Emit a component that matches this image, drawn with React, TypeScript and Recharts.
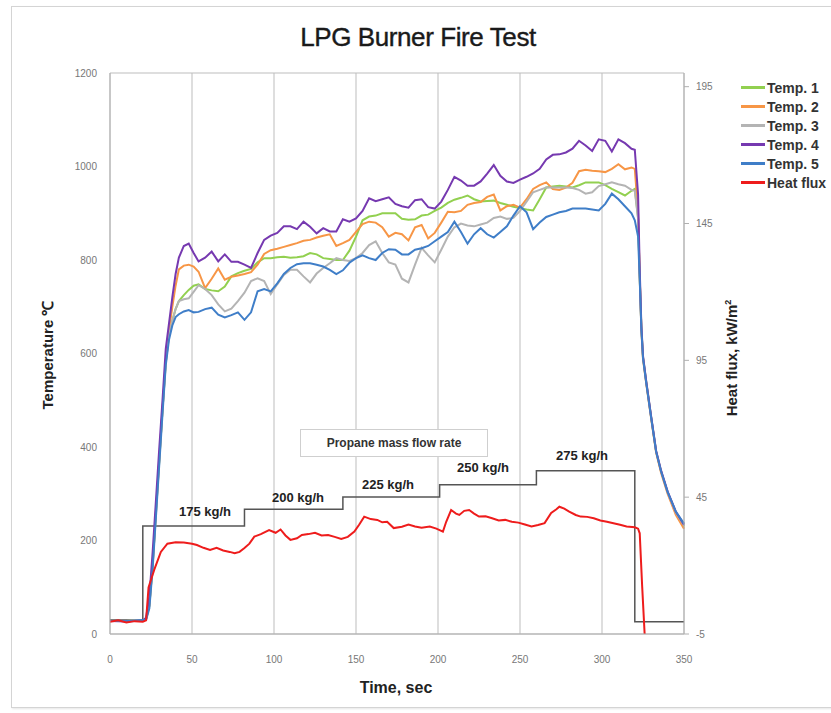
import React from 'react'
import {
  ComposedChart,
  Line,
  XAxis,
  YAxis,
  CartesianGrid,
} from 'recharts'

// time axis (sec) shared by the five thermocouples
const tempTimes = [
  0, 10, 20, 22, 24, 26, 28, 30, 32, 34, 36, 38, 40, 42, 45, 48, 51, 54, 58,
  62, 66, 70, 74, 78, 82, 86, 90, 94, 98, 102, 106, 110, 114, 118, 122, 126, 130, 134, 138,
  142, 146, 150, 154, 158, 162, 166, 170, 174, 178, 182, 186, 190, 194, 198, 202, 206, 210, 214, 218,
  222, 226, 230, 234, 238, 242, 246, 250, 254, 258, 262, 266, 270, 274, 278, 282, 286, 290, 294, 298,
  302, 306, 310, 314, 318,
  320, 322, 323, 324, 325, 327, 330, 333, 336, 340, 345, 350,
]

const temp1 = [
  28, 28, 30, 32, 60, 148, 258, 368, 478, 580, 640, 670, 695, 712, 725, 736, 745, 748, 738,
  735, 733, 743, 765, 772, 777, 781, 795, 804, 804, 806, 807, 805, 806, 808, 815, 812, 804, 802, 800,
  800, 820, 850, 885, 893, 895, 900, 900, 900, 888, 886, 887, 895, 897, 905, 912, 922, 929, 933, 938,
  930, 925, 926, 927, 922, 918, 914, 911, 908, 906, 930, 955, 957, 959, 957, 955, 960, 966, 966, 966,
  960, 952, 945, 938, 948,
  952, 890, 762, 655, 592, 538, 463, 390, 348, 303, 260, 230,
]

const temp2 = [
  28, 28, 30, 32, 62, 150, 262, 372, 480, 585, 650, 700, 745, 780, 788, 790, 786, 775, 740,
  760, 782, 758, 764, 767, 770, 774, 790, 813, 821, 824, 828, 832, 836, 841, 843, 848, 852, 855, 830,
  836, 843, 860, 877, 882, 880, 870, 850, 858, 855, 842, 870, 875, 846, 858, 880, 903, 902, 905, 918,
  922, 924, 935, 940, 906, 915, 918, 912, 930, 952, 960, 966, 952, 950, 955, 965, 990, 993, 991, 990,
  988, 995, 1005, 994, 998,
  995, 900, 765, 650, 588, 535, 460, 388, 345, 300, 255, 225,
]

const temp3 = [
  28, 28, 30, 32, 60, 148, 258, 368, 478, 580, 640, 670, 695, 712, 716, 718, 732, 746, 738,
  725, 705, 690, 696, 712, 730, 755, 761, 755, 727, 748, 768, 779, 779, 765, 752, 771, 783, 793, 804,
  800, 798, 804, 815, 832, 840, 815, 795, 790, 760, 752, 790, 826, 810, 795, 822, 850, 870, 878, 874,
  872, 876, 880, 890, 893, 888, 890, 905, 925, 945, 950, 955, 955, 955, 955, 954, 950, 942, 945, 958,
  962, 966, 962, 959, 950,
  948, 888, 762, 655, 592, 538, 463, 390, 348, 303, 260, 232,
]

const temp4 = [
  28, 27, 29, 35, 80, 175, 285, 395, 500, 610, 665, 720, 770, 805, 830, 835, 815, 797, 805,
  818, 797, 812, 796, 796, 790, 783, 815, 843, 852, 858, 872, 872, 866, 882, 871, 857, 868, 861, 861,
  887, 882, 889, 905, 932, 926, 930, 934, 920, 915, 912, 928, 930, 913, 910, 925, 950, 978, 970, 959,
  959, 968, 985, 1003, 980, 968, 965, 972, 978, 985, 995, 1015, 1025, 1026, 1030, 1038, 1055, 1045, 1033, 1058,
  1055, 1032, 1058, 1050, 1038,
  1036, 940, 780, 660, 595, 540, 465, 392, 350, 305, 262, 234,
]

const temp5 = [
  28, 28, 30, 30, 55, 140, 250, 360, 470, 575, 630, 660, 678, 684, 690, 693, 688, 689, 695,
  698, 683, 677, 682, 688, 672, 688, 733, 738, 733, 750, 770, 783, 791, 793, 793, 790, 786, 779, 770,
  778, 794, 804, 810, 804, 800, 815, 823, 822, 812, 812, 822, 825, 830, 840, 850, 860, 882, 860, 835,
  855, 868, 855, 848, 860, 872, 895, 915, 902, 866, 880, 892, 897, 902, 905, 910, 910, 910, 908, 906,
  920, 942, 930, 915, 900,
  885, 850, 758, 652, 590, 536, 462, 390, 348, 304, 262, 236,
]

// heat flux, kW/m2 (right axis)
const hfTimes = [
  0, 5, 10, 15, 20, 22, 23.5, 27, 31, 35, 40, 45, 50, 53, 57, 61, 65, 69, 73, 76, 79, 82, 85, 88,
  92, 97, 101, 104, 107, 110, 114, 117, 121, 125, 129, 133, 137, 141, 145, 149, 152, 155, 159, 163,
  166, 169, 173, 178, 182, 186, 190, 195, 199, 203, 205, 208, 211, 213, 216, 219, 222, 225, 229, 233,
  237, 241, 245, 249, 253, 257, 261, 265, 269, 272, 274, 277, 280, 284, 287, 291, 295, 299, 303, 307,
  311, 315, 320, 322, 323, 324.5, 326,
]
const hfValues = [
  -0.5, 0, -0.8, -0.3, -0.5, 0, 12, 18.5, 25, 28, 28.5, 28.4, 28, 27.5, 26.5, 25.7, 26.5, 25.5, 25, 24.5, 25, 26.4, 28, 30.6,
  31.5, 33, 32, 33.2, 31, 29.4, 30, 31.2, 31.5, 32, 31, 31.2, 30.5, 29.7, 30.5, 32.4, 35, 37.9, 37, 36.7,
  35.8, 36, 33.7, 34.2, 35, 34.3, 33.8, 34.3, 33.5, 32.4, 36, 40.3, 39, 38.5, 40, 40.3, 39, 37.9, 38, 37.3,
  36.5, 36.7, 36, 35.7, 35, 34.3, 34.8, 35.5, 39.2, 40.5, 41.5, 40.8, 39.7, 38.5, 37.9, 37.8, 37.3, 36.5, 36, 35.5,
  34.9, 34.3, 34, 33.5, 31.8, 12.3, -5,
]

// propane mass flow rate schedule, drawn as a step on the temperature scale
const flowTimes = [0, 20, 82, 142, 201, 260, 320, 350]
const flowLevels = [30, 231, 267, 293, 319, 349, 26, 26]
const flowLabels = ['175 kg/h', '200 kg/h', '225 kg/h', '250 kg/h', '275 kg/h']

const seriesNames = ['Temp. 1', 'Temp. 2', 'Temp. 3', 'Temp. 4', 'Temp. 5', 'Heat flux']

const xTicks = [0, 50, 100, 150, 200, 250, 300, 350]
const leftTicks = [0, 200, 400, 600, 800, 1000, 1200]
const rightTicks = [-5, 45, 95, 145, 195]

const tempData = tempTimes.map((t, i) => ({
  t,
  t1: temp1[i],
  t2: temp2[i],
  t3: temp3[i],
  t4: temp4[i],
  t5: temp5[i],
}))
const hfData = hfTimes.map((t, i) => ({ t, hf: hfValues[i] }))
const flowData = flowTimes.map((t, i) => ({ t, flow: flowLevels[i] }))

const FONT = '"Liberation Sans", Arial, sans-serif'
const colors = ['#92d050', '#f79646', '#b4b4b4', '#7639b0', '#3f7ec8', '#ee1c1c']
const labelSpots = [
  { left: 205, top: 512 },
  { left: 298, top: 498 },
  { left: 388, top: 485 },
  { left: 483, top: 468 },
  { left: 582, top: 456 },
]

export default function App() {
  return (
    <div style={{ position: 'absolute', left: 0, top: 0, width: 831, height: 713, overflow: 'hidden', background: '#fff', fontFamily: FONT }}>
      <div style={{ position: 'absolute', left: 11, top: 6, width: 840, height: 700, border: '1px solid #d4d4d4', boxShadow: '1px 1px 2px #e6e6e6' }} />
      <div style={{ position: 'absolute', left: 0, width: 836, top: 22, textAlign: 'center', fontSize: 26, color: '#1a1a1a', letterSpacing: -0.4, WebkitTextStroke: '0.4px #1a1a1a' }}>
        LPG Burner Fire Test
      </div>

      <ComposedChart
        width={831}
        height={713}
        data={tempData}
        margin={{ top: 73, right: 87, bottom: 49, left: 50 }}
        style={{ position: 'absolute', left: 0, top: 0 }}
      >
        <CartesianGrid stroke="#bdbdbd" strokeWidth={1} />
        <XAxis
          dataKey="t"
          type="number"
          domain={[0, 350]}
          ticks={xTicks}
          height={30}
          tickLine={false}
          tickMargin={16}
          stroke="#b0b0b0"
          tick={{ fill: '#777', fontSize: 10, fontFamily: FONT }}
        />
        <YAxis
          yAxisId="left"
          domain={[0, 1200]}
          ticks={leftTicks}
          width={60}
          tickLine={false}
          tickMargin={7}
          stroke="#b0b0b0"
          tick={{ fill: '#777', fontSize: 10, fontFamily: FONT }}
        />
        <YAxis
          yAxisId="right"
          orientation="right"
          domain={[-5, 200]}
          ticks={rightTicks}
          width={60}
          tickSize={5}
          tickMargin={7}
          stroke="#b0b0b0"
          tick={{ fill: '#777', fontSize: 10, fontFamily: FONT }}
          allowDataOverflow
        />
        <Line yAxisId="left" data={flowData} dataKey="flow" type="stepAfter" stroke="#555" strokeWidth={1.5} dot={false} isAnimationActive={false} />
        <Line yAxisId="left" dataKey="t1" name={seriesNames[0]} stroke={colors[0]} strokeWidth={2} dot={false} isAnimationActive={false} />
        <Line yAxisId="left" dataKey="t2" name={seriesNames[1]} stroke={colors[1]} strokeWidth={2} dot={false} isAnimationActive={false} />
        <Line yAxisId="left" dataKey="t3" name={seriesNames[2]} stroke={colors[2]} strokeWidth={2} dot={false} isAnimationActive={false} />
        <Line yAxisId="left" dataKey="t4" name={seriesNames[3]} stroke={colors[3]} strokeWidth={2} dot={false} isAnimationActive={false} />
        <Line yAxisId="left" dataKey="t5" name={seriesNames[4]} stroke={colors[4]} strokeWidth={2} dot={false} isAnimationActive={false} />
        <Line yAxisId="right" data={hfData} dataKey="hf" name={seriesNames[5]} stroke={colors[5]} strokeWidth={2} dot={false} isAnimationActive={false} />
      </ComposedChart>

      {/* legend */}
      <div style={{ position: 'absolute', left: 741, top: 78 }}>
        {seriesNames.map((name, i) => (
          <div key={name} style={{ display: 'flex', alignItems: 'center', height: 19 }}>
            <span style={{ width: 24, height: 3, background: colors[i], marginRight: 2 }} />
            <span style={{ fontSize: 14, fontWeight: 700, color: '#333', whiteSpace: 'nowrap' }}>{name}</span>
          </div>
        ))}
      </div>

      {flowLabels.map((txt, i) => (
        <div
          key={txt}
          style={{
            position: 'absolute',
            left: labelSpots[i].left - 50,
            top: labelSpots[i].top - 9,
            width: 100,
            textAlign: 'center',
            fontSize: 13,
            fontWeight: 700,
            color: '#222',
            lineHeight: '18px',
          }}
        >
          {txt}
        </div>
      ))}
      <div
        style={{
          position: 'absolute',
          left: 300,
          top: 429,
          width: 186,
          height: 26,
          background: '#fff',
          border: '1px solid #cfcfcf',
          textAlign: 'center',
          lineHeight: '26px',
          fontSize: 12,
          fontWeight: 700,
          color: '#333',
        }}
      >
        Propane mass flow rate
      </div>

      <div style={{ position: 'absolute', left: -52, top: 345, width: 200, height: 20, lineHeight: '20px', textAlign: 'center', transform: 'rotate(-90deg)', fontSize: 15, fontWeight: 700, color: '#222' }}>
        Temperature ℃
      </div>
      <div style={{ position: 'absolute', left: 628, top: 348, width: 200, height: 20, lineHeight: '20px', textAlign: 'center', transform: 'rotate(-90deg)', fontSize: 15, fontWeight: 700, color: '#222' }}>
        Heat flux, kW/m<sup style={{ fontSize: 9 }}>2</sup>
      </div>
      <div style={{ position: 'absolute', left: 296, top: 679, width: 200, textAlign: 'center', fontSize: 16, fontWeight: 700, color: '#222' }}>
        Time, sec
      </div>
    </div>
  )
}
